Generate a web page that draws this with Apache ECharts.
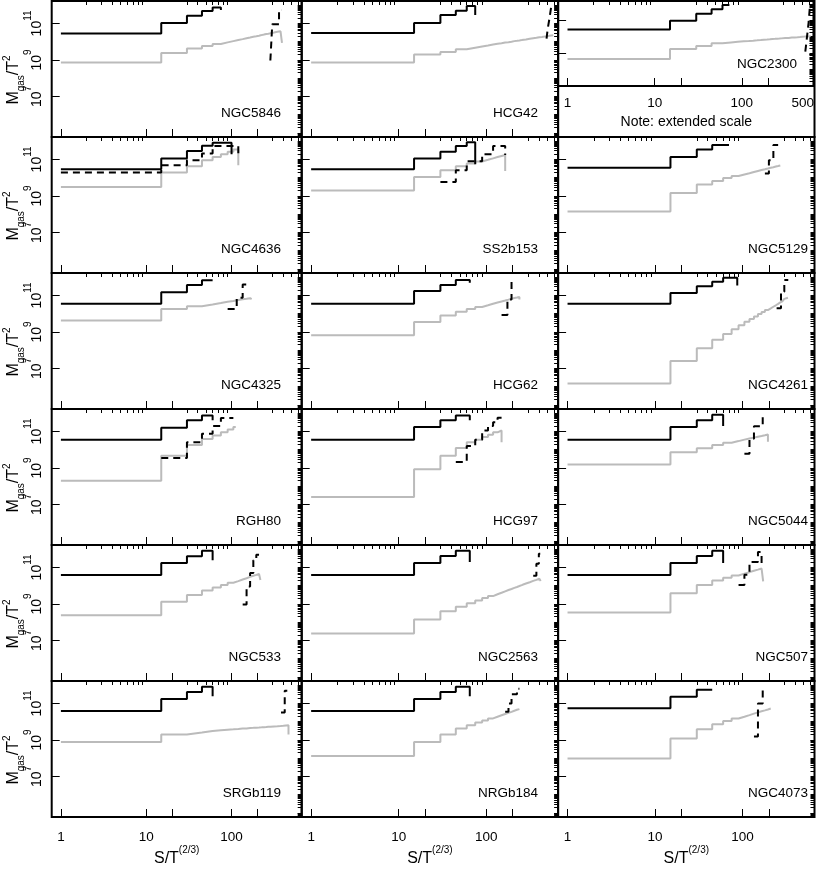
<!DOCTYPE html>
<html>
<head>
<meta charset="utf-8">
<title>Mgas/T2 vs S/T(2/3)</title>
<script src="https://cdn.jsdelivr.net/npm/echarts@6/dist/echarts.min.js"></script>
<style>
html, body { margin: 0; padding: 0; background: #fff; }
#chart { width: 817px; height: 869px; }
</style>
</head>
<body>
<div id="chart"></div>
<script>
var FONT = '"Liberation Sans", Arial, Helvetica, sans-serif';

var panelNames = ['NGC5846', 'HCG42', 'NGC2300', 'NGC4636', 'SS2b153', 'NGC5129',
    'NGC4325', 'HCG62', 'NGC4261', 'RGH80', 'HCG97', 'NGC5044',
    'NGC533', 'NGC2563', 'NGC507', 'SRGb119', 'NRGb184', 'NGC4073'];

// entropy bin edges (S/T^(2/3))
var binEdges = [1, 15, 30, 45, 60, 75, 90, 105, 120, 135, 150, 165, 180, 195, 210, 225, 240,
    255, 270, 285, 300, 315, 330, 345, 360, 375, 390, 405, 420, 435, 450, 465, 480, 495,
    510, 525, 540, 555, 570, 585, 600, 615];

// log10(Mgas/T^2) per bin, black solid line
var blackLog = [
    [10.45, 11.03, 11.42, 11.68, 11.88],
    [10.48, 11.03, 11.46, 11.70, 11.96],
    [10.44, 10.98, 11.40, 11.68, 11.94],
    [10.46, 11.05, 11.46, 11.75, 11.92, 11.92, 11.92],
    [10.46, 11.05, 11.42, 11.73, 11.94],
    [10.54, 11.14, 11.55, 11.79],
    [10.54, 11.18, 11.57, 11.83],
    [10.54, 11.24, 11.57, 11.85],
    [10.54, 11.14, 11.51, 11.75, 11.97, 11.97],
    [10.54, 11.20, 11.61, 11.88],
    [10.54, 11.24, 11.61, 11.88],
    [10.54, 11.24, 11.61, 11.92],
    [10.59, 11.24, 11.61, 11.92],
    [10.59, 11.24, 11.63, 11.92],
    [10.59, 11.24, 11.63, 11.92],
    [10.59, 11.24, 11.63, 11.92],
    [10.59, 11.24, 11.63, 11.92],
    [10.74, 11.36, 11.75]
];
var blackEnd = [75, 75, 72, 100, 75, 70, 60, 65, 87, 60, 65, 60, 60, 65, 60, 60, 65, 45];
var blackDrop = [11.73, 11.46, null, 11.29, 10.74, null, null, 11.70, 11.55, 11.61, 11.61, 11.30,
    11.40, 11.30, 11.24, 11.40, 11.40, null];

// log10(Mgas/T^2) per bin, grey line
var grayLog = [
    [8.86, 9.38, 9.62, 9.76, 9.87, 9.96, 10.03, 10.09, 10.14, 10.19, 10.23, 10.27, 10.30, 10.33,
        10.36, 10.39, 10.42, 10.44, 10.46, 10.48, 10.50, 10.52, 10.54, 10.56, 10.57, 10.59],
    [8.86, 9.29, 9.43, 9.58, 9.67, 9.74, 9.79, 9.84, 9.88, 9.91, 9.95, 9.97, 10.00, 10.03, 10.05,
        10.07, 10.09, 10.11, 10.12, 10.14, 10.16, 10.17, 10.19, 10.20, 10.21, 10.23, 10.24, 10.25,
        10.26, 10.27, 10.28, 10.29, 10.30, 10.31, 10.32, 10.33, 10.34, 10.34, 10.35],
    [8.65, 9.25, 9.44, 9.60, 9.65, 9.69, 9.72, 9.74, 9.76, 9.78, 9.80, 9.82, 9.83, 9.84, 9.86,
        9.87, 9.88, 9.89, 9.90, 9.91, 9.92, 9.92, 9.93, 9.94, 9.95, 9.95, 9.96, 9.97, 9.97, 9.98,
        9.98, 9.99, 10.00, 10.00, 10.01, 10.01, 10.02, 10.02, 10.03, 10.03, 10.04],
    [9.49, 10.28, 10.63, 10.96, 11.14, 11.29, 11.42, 11.55],
    [9.30, 10.04, 10.41, 10.63, 10.78, 10.89, 10.98, 11.06, 11.13, 11.19, 11.24],
    [8.14, 9.16, 9.62, 9.82, 9.98, 10.09, 10.17, 10.24, 10.31, 10.37, 10.42, 10.46, 10.50, 10.54,
        10.57, 10.61, 10.64, 10.67],
    [9.62, 10.26, 10.41, 10.50, 10.58, 10.65, 10.70, 10.75, 10.79, 10.82, 10.85, 10.87],
    [8.81, 9.54, 9.90, 10.10, 10.26, 10.37, 10.46, 10.54, 10.61, 10.67, 10.72, 10.77, 10.82,
        10.86, 10.89, 10.92],
    [6.17, 7.41, 8.10, 8.57, 8.88, 9.15, 9.37, 9.55, 9.71, 9.85, 9.98, 10.09, 10.20, 10.29,
        10.38, 10.46, 10.54, 10.62, 10.68, 10.75, 10.81, 10.87],
    [8.29, 9.67, 10.26, 10.59, 10.78, 10.95, 11.10, 11.24],
    [7.41, 8.93, 9.67, 10.09, 10.41, 10.55, 10.70, 10.82, 10.95, 11.05],
    [9.18, 9.86, 10.08, 10.26, 10.38, 10.47, 10.55, 10.61, 10.66, 10.71, 10.75, 10.79, 10.83],
    [8.38, 9.12, 9.49, 9.73, 9.90, 10.04, 10.16, 10.25, 10.34, 10.41, 10.48, 10.54, 10.59,
        10.64, 10.69],
    [7.37, 8.14, 8.60, 8.84, 9.03, 9.19, 9.32, 9.43, 9.53, 9.61, 9.69, 9.76, 9.82, 9.88, 9.93,
        9.98, 10.03, 10.08, 10.12, 10.16, 10.19, 10.23, 10.26, 10.29, 10.32, 10.36, 10.38, 10.41],
    [8.53, 9.58, 10.04, 10.28, 10.44, 10.56, 10.66, 10.74, 10.82, 10.88, 10.94, 11.00],
    [8.88, 9.30, 9.40, 9.49, 9.53, 9.56, 9.58, 9.60, 9.62, 9.63, 9.65, 9.66, 9.67, 9.68, 9.69,
        9.70, 9.71, 9.72, 9.72, 9.73, 9.74, 9.74, 9.75, 9.76, 9.76, 9.77, 9.77, 9.78, 9.79, 9.79, 9.80],
    [8.11, 8.88, 9.30, 9.62, 9.80, 9.95, 10.07, 10.18, 10.27, 10.35, 10.42, 10.48, 10.54, 10.60,
        10.65, 10.69],
    [7.98, 9.07, 9.58, 9.86, 10.04, 10.17, 10.27, 10.36, 10.44, 10.51, 10.57, 10.62, 10.67, 10.72]
];
var grayEnd = [390, 585, 615, 120, 165, 270, 172, 240, 330, 112, 150, 195, 218, 420, 172, 465, 240, 210];
var grayDrop = [9.93, null, null, 10.68, 10.37, null, 10.80, 10.78, null, null, 10.41, 10.44,
    10.31, 10.25, 10.23, 9.30, null, null];

// dashed line: its own bin edges (last one is the end) and log10 values
var dashEdges = [
    [285, 300, 360, 390],
    [490, 505, 530, 555, 570],
    [535, 560, 585, 605, 620],
    [1, 15, 30, 45, 60, 120],
    [30, 45, 60, 90, 120, 165],
    [180, 200, 225, 255],
    [90, 115, 135, 150],
    [150, 175, 195, 210],
    [245, 275, 300, 333],
    [15, 30, 45, 60, 75, 105],
    [45, 60, 75, 90, 105, 120, 135, 150],
    [105, 120, 135, 170, 180],
    [135, 150, 165, 180, 195, 210],
    [345, 375, 400, 415],
    [90, 105, 120, 150, 165],
    [380, 420, 450],
    [165, 180, 195, 225, 240],
    [135, 150, 170, 185]
];
var dashLog = [
    [8.97, 10.96, 11.73],
    [10.17, 10.70, 11.30, 11.95],
    [9.10, 10.00, 10.90, 11.90],
    [10.28, 10.68, 10.96, 11.33, 11.73],
    [9.76, 10.41, 10.90, 11.29, 11.73],
    [10.23, 10.96, 11.79],
    [10.26, 10.87, 11.60],
    [9.93, 10.78, 11.75],
    [10.30, 11.20, 11.85],
    [9.54, 10.41, 10.87, 11.30, 11.73],
    [9.33, 10.20, 10.54, 11.05, 11.30, 11.50, 11.75],
    [9.77, 10.60, 11.28, 11.85],
    [8.97, 9.95, 10.70, 11.40, 11.70],
    [10.55, 11.20, 11.75],
    [10.04, 10.60, 11.30, 11.85],
    [10.50, 11.70],
    [10.55, 11.00, 11.50, 11.80],
    [9.18, 11.00, 11.75]
];
var dashDrop = [null, null, null, 11.14, 11.24, null, null, null, null, null, null, null,
    null, null, 11.20, null, null, null];

// axes
var xMin = 0.78, xMax = 664;
var yMin = 5.9e4, yMax = 1.7e12;
var yMinShort = 1e7, yMaxShort = 1.5e12;   // NGC2300 panel
var xTickLong = [1, 10, 20, 100, 200];
var xTickShort = [2, 3, 4, 5, 6, 7, 8, 9, 30, 40, 50, 60, 70, 80, 90, 300, 400, 500, 600];
var xLabels = [1, 10, 100];
var xLabelsExtended = [1, 10, 100, 500];
var yTickLong = [1e7, 1e9, 1e11];
var yTickShort = [];
for (var n = 4; n <= 12; n++) {
    for (var k = 1; k <= 9; k++) yTickShort.push(k * Math.pow(10, n));
}

// layout
var colLeft = [51.7, 301.7, 558.1];
var colWidth = [250, 256.4, 256.4];
var rowTop = [1, 137, 273, 409, 545, 681];
var rowHeight = 136;
var nameRight = [281, 538, 808];

function toPow(v) { return Math.pow(10, v); }

function stepPoints(vals, end, drop) {
    var pts = [];
    for (var k = 0; k < vals.length; k++) pts.push([binEdges[k], toPow(vals[k])]);
    pts.push([end, toPow(vals[vals.length - 1])]);
    if (drop != null) pts.push([end, toPow(drop)]);
    return pts;
}

function dashPoints(edges, vals, drop) {
    var pts = [];
    for (var k = 0; k < vals.length; k++) pts.push([edges[k], toPow(vals[k])]);
    pts.push([edges[edges.length - 1], toPow(vals[vals.length - 1])]);
    if (drop != null) pts.push([edges[edges.length - 1], toPow(drop)]);
    return pts;
}

var dom = document.getElementById('chart');
var myChart = echarts.init(dom, null, { renderer: 'canvas' });

var grids = [], xAxes = [], yAxes = [], series = [], graphics = [];
var tickStyle = { color: '#000', width: 1 };

for (var i = 0; i < panelNames.length; i++) {
    var row = Math.floor(i / 3), col = i % 3;
    var shortPanel = (i === 2);
    var h = shortPanel ? 85 : rowHeight;
    grids.push({
        left: colLeft[col], top: rowTop[row], width: colWidth[col], height: h,
        show: true, borderColor: '#000', borderWidth: 2, backgroundColor: 'transparent'
    });

    var showXLab = (row === 5) || shortPanel;
    xAxes.push({
        type: 'log', gridIndex: i, min: xMin, max: xMax,
        axisLine: { show: false },
        axisTick: { show: true, inside: true, length: 8, customValues: xTickLong, lineStyle: tickStyle },
        splitLine: { show: false },
        axisLabel: {
            show: showXLab, customValues: shortPanel ? xLabelsExtended : xLabels,
            margin: shortPanel ? 10 : 13, fontSize: 13.5, color: '#000', fontFamily: FONT
        },
        name: row === 5 ? '{a|S/T}{s|(2/3)}' : '',
        nameLocation: 'middle', nameGap: 28,
        nameTextStyle: {
            fontFamily: FONT, color: '#000',
            rich: {
                a: { fontSize: 16, lineHeight: 22, verticalAlign: 'bottom', fontFamily: FONT, color: '#000' },
                s: { fontSize: 10, lineHeight: 12, verticalAlign: 'top', fontFamily: FONT, color: '#000' }
            }
        }
    });
    xAxes.push({
        type: 'log', gridIndex: i, min: xMin, max: xMax,
        axisLine: { show: false },
        axisTick: { show: true, inside: true, length: 4, customValues: xTickShort, lineStyle: tickStyle },
        splitLine: { show: false },
        axisLabel: { show: false }
    });

    var y0 = shortPanel ? yMinShort : yMin, y1 = shortPanel ? yMaxShort : yMax;
    yAxes.push({
        type: 'log', gridIndex: i, min: y0, max: y1,
        axisLine: { show: false },
        axisTick: { show: true, inside: true, length: 8, customValues: yTickLong, lineStyle: tickStyle },
        splitLine: { show: false },
        axisLabel: {
            show: col === 0, customValues: yTickLong, rotate: 90, margin: 8,
            formatter: function (v) {
                return '{b|10}{s|' + Math.round(Math.log(v) / Math.LN10) + '}';
            },
            rich: {
                b: { fontSize: 14, lineHeight: 20, verticalAlign: 'bottom', fontFamily: FONT, color: '#000' },
                s: { fontSize: 10, lineHeight: 11, verticalAlign: 'top', fontFamily: FONT, color: '#000' }
            }
        }
    });
    yAxes.push({
        type: 'log', gridIndex: i, min: y0, max: y1,
        axisLine: { show: false },
        axisTick: { show: true, inside: true, length: 4, customValues: yTickShort, lineStyle: tickStyle },
        splitLine: { show: false },
        axisLabel: { show: false }
    });

    var common = {
        type: 'line', xAxisIndex: 2 * i, yAxisIndex: 2 * i, step: 'end',
        symbol: 'none', showSymbol: false, silent: true, animation: false
    };
    series.push(Object.assign({}, common, {
        name: panelNames[i] + ' grey', z: 2,
        data: stepPoints(grayLog[i], grayEnd[i], grayDrop[i]),
        lineStyle: { color: '#bbbbbb', width: 2 }
    }));
    series.push(Object.assign({}, common, {
        name: panelNames[i] + ' black', z: 3,
        data: stepPoints(blackLog[i], blackEnd[i], blackDrop[i]),
        lineStyle: { color: '#000', width: 2 }
    }));
    series.push(Object.assign({}, common, {
        name: panelNames[i] + ' dashed', z: 4,
        data: dashPoints(dashEdges[i], dashLog[i], dashDrop[i]),
        lineStyle: { color: '#000', width: 2, type: [7, 5] }
    }));

    // panel name
    graphics.push({
        type: 'text', z: 10,
        x: shortPanel ? 797 : nameRight[col],
        y: shortPanel ? 64 : rowTop[row] + 112,
        style: {
            text: panelNames[i], fill: '#000', font: '13.5px ' + FONT,
            align: 'right', verticalAlign: 'middle', textAlign: 'right', textVerticalAlign: 'middle'
        }
    });
}

// y axis titles
for (var r = 0; r < rowTop.length; r++) {
    graphics.push({
        type: 'text', z: 10, x: 14, y: rowTop[r] + 79, rotation: Math.PI / 2,
        style: {
            text: '{m|M}{d|gas}{m|/T}{u|2}', fill: '#000',
            align: 'center', verticalAlign: 'middle', textAlign: 'center', textVerticalAlign: 'middle',
            rich: {
                m: { fontSize: 16, lineHeight: 24, verticalAlign: 'middle', fontFamily: FONT, fill: '#000' },
                d: { fontSize: 10, lineHeight: 10, verticalAlign: 'bottom', fontFamily: FONT, fill: '#000' },
                u: { fontSize: 10, lineHeight: 10, verticalAlign: 'top', fontFamily: FONT, fill: '#000' }
            }
        }
    });
}

// frame of the NGC2300 cell and its note
graphics.push({
    type: 'rect', z: 9,
    shape: { x: colLeft[2], y: rowTop[0], width: colWidth[2], height: rowHeight },
    style: { fill: 'none', stroke: '#000', lineWidth: 2 }
});
graphics.push({
    type: 'text', z: 10, x: colLeft[2] + colWidth[2] / 2, y: 122,
    style: {
        text: 'Note: extended scale', fill: '#000', font: '14px ' + FONT,
        align: 'center', verticalAlign: 'middle', textAlign: 'center', textVerticalAlign: 'middle'
    }
});

var option = {
    animation: false,
    backgroundColor: '#fff',
    textStyle: { fontFamily: FONT },
    grid: grids,
    xAxis: xAxes,
    yAxis: yAxes,
    series: series,
    graphic: { elements: graphics }
};

if (option && typeof option === "object") {
    myChart.setOption(option, true);
}
</script>
</body>
</html>
